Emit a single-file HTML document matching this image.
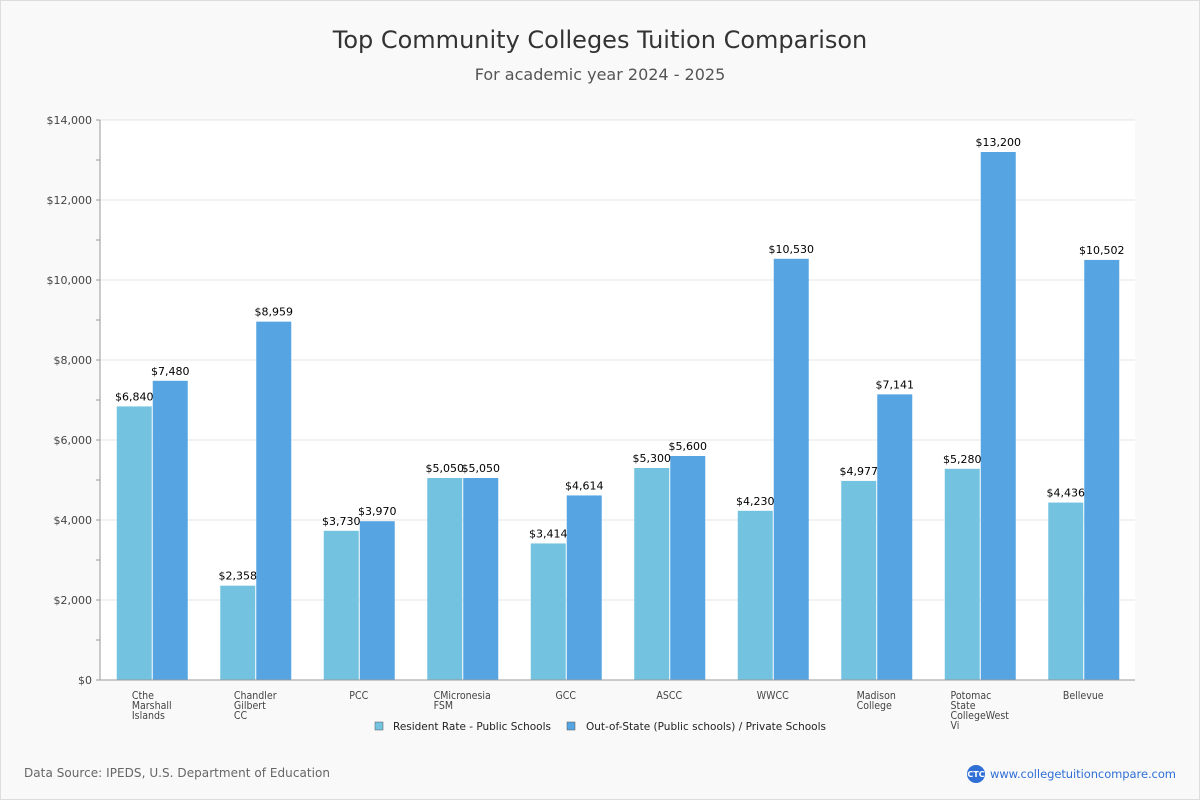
<!DOCTYPE html>
<html><head><meta charset="utf-8"><style>
body{margin:0;background:#fff;font-family:"DejaVu Sans","Liberation Sans",sans-serif}
#wrap{position:relative;width:1198px;height:798px;border:1px solid #ddd;background:#f9f9f9}
</style></head><body>
<div id="wrap">
<svg id="chart" width="1198" height="798" xmlns="http://www.w3.org/2000/svg"></svg>
</div>
<script>
const categories=[["Cthe","Marshall","Islands"],["Chandler","Gilbert","CC"],["PCC"],["CMicronesia","FSM"],["GCC"],["ASCC"],["WWCC"],["Madison","College"],["Potomac","State","CollegeWest","Vi"],["Bellevue"]];
const residentValues=[6840,2358,3730,5050,3414,5300,4230,4977,5280,4436];
const outOfStateValues=[7480,8959,3970,5050,4614,5600,10530,7141,13200,10502];
const yTicks=[0,2000,4000,6000,8000,10000,12000,14000];
const svg=document.getElementById('chart');const NS="http://www.w3.org/2000/svg";
const X0=99,X1=1134,Y0=679,Y1=119,YMAX=14000;
const y=v=>Y0-(v/YMAX)*(Y0-Y1);
const gw=(X1-X0)/categories.length;
const gc=i=>X0+gw*(i+0.5);
function mk(t,a,txt){const e=document.createElementNS(NS,t);for(const k in a)e.setAttribute(k,a[k]);if(txt!=null)e.textContent=txt;svg.appendChild(e);return e;}
const fmt=v=>'$'+v.toLocaleString('en-US');
let e;
e=mk('text',{x:599,y:47,'text-anchor':'middle','font-size':24,fill:'#333'},'Top Community Colleges Tuition Comparison');


e=mk('text',{x:599,y:79,'text-anchor':'middle','font-size':16,fill:'#555'},'For academic year 2024 - 2025');


e=mk('rect',{x:X0,y:Y1,width:X1-X0,height:Y0-Y1,fill:'#fff'});


yTicks.forEach(t=>{
 e=mk('line',{x1:X0,x2:X1,y1:y(t),y2:y(t),stroke:'#e4e4e4'});
 
 
 e=mk('text',{x:X0-8,y:y(t)+4,'text-anchor':'end','font-size':11,fill:'#444'},fmt(t));
 
 
});
for(let v=0;v<=YMAX;v+=1000){e=mk('line',{x1:X0-4,x2:X0,y1:y(v),y2:y(v),stroke:'#999'});
 
 }
categories.forEach((c,i)=>{
 const cx=gc(i);
 e=mk('rect',{x:cx-35,y:y(residentValues[i]),width:35,height:Y0-y(residentValues[i]),fill:'#73c3e0'});
 
 
 e=mk('rect',{x:cx+1,y:y(outOfStateValues[i]),width:35,height:Y0-y(outOfStateValues[i]),fill:'#56a5e2'});
 
 
 e=mk('text',{x:cx-17.5,y:y(residentValues[i])-6,'text-anchor':'middle','font-size':11,fill:'#000'},fmt(residentValues[i]));
 
 
 e=mk('text',{x:cx+18.5,y:y(outOfStateValues[i])-6,'text-anchor':'middle','font-size':11,fill:'#000'},fmt(outOfStateValues[i]));
 
 
 const els=[];let mw=0;
 c.forEach((line,j)=>{
  e=mk('text',{x:cx,y:698+j*10,'font-size':10.5,fill:'#444','font-family':'"DejaVu Sans Condensed","DejaVu Sans",sans-serif'},line);
  
  
  els.push(e);mw=Math.max(mw,e.getComputedTextLength());
 });
 els.forEach(t=>t.setAttribute('x',cx-mw/2));
});
e=mk('line',{x1:X0,x2:X0,y1:Y1,y2:Y0,stroke:'#999'});


e=mk('line',{x1:X0,x2:X1,y1:Y0,y2:Y0,stroke:'#999'});


e=mk('rect',{x:374,y:721,width:8,height:8,fill:'#73c3e0',stroke:'#555','stroke-width':0.5});


e=mk('text',{x:392,y:729,'font-size':10.5,fill:'#222',textLength:158},'Resident Rate - Public Schools');


e=mk('rect',{x:566,y:721,width:8,height:8,fill:'#56a5e2',stroke:'#555','stroke-width':0.5});


e=mk('text',{x:585,y:729,'font-size':10.5,fill:'#222',textLength:240},'Out-of-State (Public schools) / Private Schools');


e=mk('text',{x:23,y:776,'font-size':12,fill:'#666',textLength:306},'Data Source: IPEDS, U.S. Department of Education');


e=mk('circle',{cx:975,cy:773,r:9,fill:'#2f6fd6'});


e=mk('text',{x:975,y:776,'text-anchor':'middle','font-size':8,fill:'#fff','font-weight':'bold'},'CTC');


e=mk('text',{x:989,y:777,'font-size':11.5,fill:'#2f6fd6',textLength:186},'www.collegetuitioncompare.com');


</script>
</body></html>
